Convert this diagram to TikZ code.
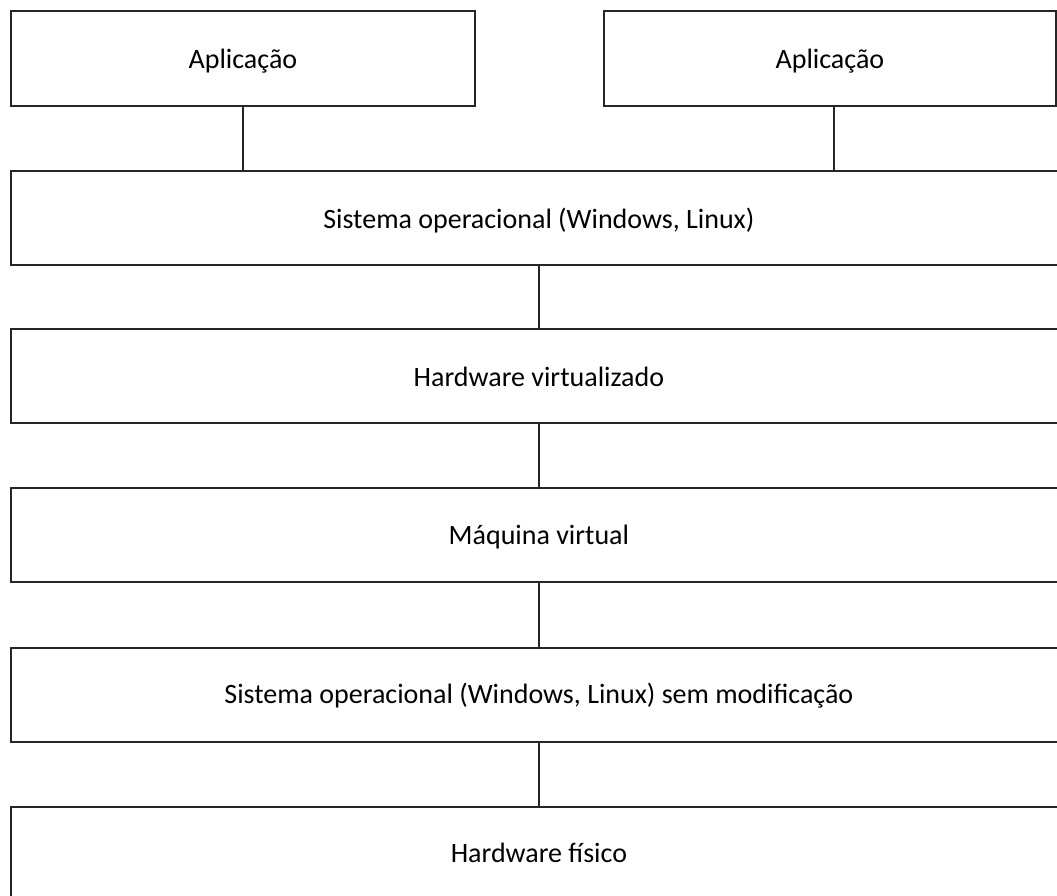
\documentclass[tikz,border=0pt]{standalone}
\usepackage{fontspec}
\setmainfont{Carlito}
\begin{document}
\begin{tikzpicture}[x=1pt,y=-1pt,
  layer/.style={draw=black!85, line width=1.8pt, rectangle, anchor=north west,
    inner sep=0pt},
  wide/.style={layer, minimum width=1056pt, minimum height=94pt},
  caption/.style={font=\fontsize{28}{33}\selectfont, inner sep=0pt},
  link/.style={draw=black!85, line width=1.8pt}]
\useasboundingbox (0,0) rectangle (1057,896);
% the two applications on top
\node[layer, minimum width=464pt, minimum height=95pt] (app1) at (10,10) {};
\node[layer, minimum width=452pt, minimum height=95pt] (app2) at (603,10) {};
\node[caption] (app1t) at ([yshift=-3pt]app1.center) {Aplicação};
\node[caption] (app2t) at ([yshift=-3pt]app2.center) {Aplicação};
% stacked layers, running off the right edge
\node[wide] (os)  at (10,170) {};
\node[wide] (hv)  at (10,328) {};
\node[wide] (vm)  at (10,487) {};
\node[wide] (os2) at (10,647) {};
\node[wide, minimum height=100pt] (hw) at (10,806) {};
\node[caption] (ost)  at ([yshift=-3pt]os.center)  {Sistema operacional (Windows, Linux)};
\node[caption] (hvt)  at ([yshift=-1pt]hv.center)  {Hardware virtualizado};
\node[caption] (vmt)  at ([yshift=-2pt]vm.center)  {Máquina virtual};
\node[caption] (os2t) at ([yshift=-1pt]os2.center) {Sistema operacional (Windows, Linux) sem modificação};
\node[caption] (hwt)  at (hv.center |- 0,853)      {Hardware físico};
% connectors between the layers
\coordinate (app2foot) at ([xshift=4pt]app2.south);
\draw[link] (app1.south) -- (app1.south |- os.north);
\draw[link] (app2foot) -- (app2foot |- os.north);
\draw[link] (os.south) -- (hv.north);
\draw[link] (hv.south) -- (vm.north);
\draw[link] (vm.south) -- (os2.north);
\draw[link] (os2.south) -- (hw.north);
\end{tikzpicture}
\end{document}
